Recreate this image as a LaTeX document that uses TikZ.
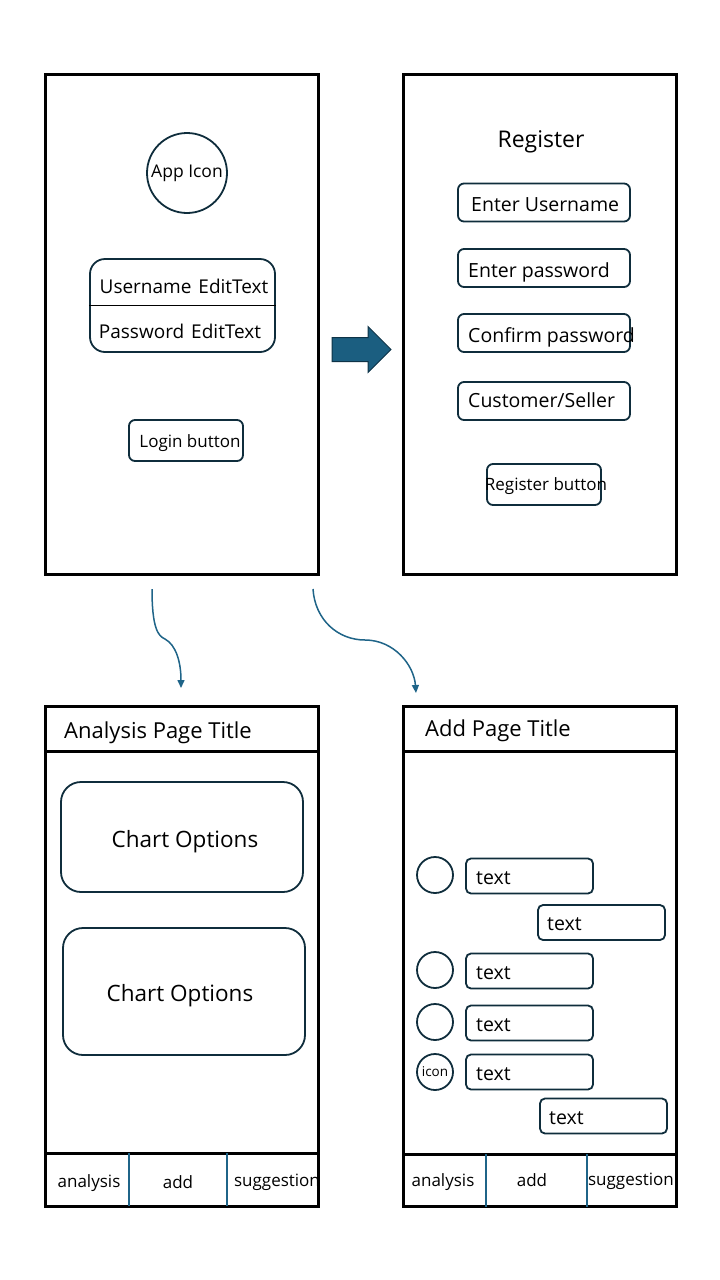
\documentclass[tikz,border=0pt]{standalone}
\usepackage{fontspec}
\setmainfont{Open Sans}
\usetikzlibrary{arrows.meta,shapes.arrows}
\definecolor{edge}{HTML}{0F2D3C}
\definecolor{flowblue}{HTML}{1F6488}
\definecolor{blockfill}{HTML}{1B5E80}
\definecolor{blockline}{HTML}{0E3347}
\newcommand{\fsz}[1]{\fontsize{#1}{#1}\selectfont}
\begin{document}
\begin{tikzpicture}[x=1pt,y=-1pt,
  panel/.style={draw=black,line width=3pt},
  field/.style={draw=edge,line width=1.8pt,rounded corners=6pt,minimum width=172pt,minimum height=38pt,inner sep=0pt},
  tbox/.style={draw=edge,line width=1.8pt,rounded corners=5pt,minimum width=127pt,minimum height=35pt,inner sep=0pt},
  chart/.style={draw=edge,line width=1.8pt,rounded corners=20pt,minimum width=242pt,inner sep=0pt},
  dot/.style={circle,draw=edge,line width=1.8pt,minimum size=36pt,inner sep=0pt},
  txt/.style={anchor=mid,inner sep=0pt,yshift=-5pt},
  lbl/.style={txt,anchor=mid west,yshift=1.5pt,font=\fsz{19.5}},
  navtxt/.style={txt,yshift=3pt,font=\fsz{17}},
  flow/.style={draw=flowblue,line width=1.5pt,-{Triangle[length=8pt,width=7pt]}},
  tab/.style={draw=flowblue,line width=1.5pt}]
\useasboundingbox (0,0) rectangle (720,1280);
% login screen
\draw[panel] (45,74) rectangle (318,574);
\node[dot,minimum size=80pt,font=\fsz{17.5}] (appicon) at (187,173) {App Icon};
\node[field,minimum width=185pt,minimum height=93pt,rounded corners=15pt] (cred) at (182.5,305.5) {};
\draw[black,line width=1.5pt] (cred.west) -- (cred.east);
\node[txt,font=\fsz{19}] (user) at (184,286) {Username\hspace{2pt} EditText};
\node[txt,font=\fsz{19}] (pass) at (180,331) {Password\hspace{2pt} EditText};
\node[field,minimum width=114pt,minimum height=41pt] (login) at (186,440.5) {};
\node[navtxt] (logintxt) at (190,443) {Login button};
% register screen
\draw[panel] (403,74) rectangle (676,574);
\node[txt,font=\fsz{23}] (regtitle) at (541,140) {Register};
\node[field] (runame) at (544,202.5) {};
\node[lbl] (runametxt) at (471,205) {Enter Username};
\node[field] (rpass) at (544,268) {};
\node[lbl] (rpasstxt) at (468,271) {Enter password};
\node[field] (rconf) at (544,333) {};
\node[lbl] (rconftxt) at (468,336) {Confirm password};
\node[field] (rrole) at (544,401) {};
\node[lbl] (rroletxt) at (468,401) {Customer/Seller};
\node[field,minimum width=114pt,minimum height=41pt] (regbtn) at (544,484.5) {};
\node[navtxt] (regbtntxt) at (546,486) {Register button};
% block arrow
\node[single arrow,fill=blockfill,draw=blockline,line width=1pt,inner sep=11.5pt,
  minimum height=59pt,single arrow head extend=11pt] (go) at (355.5,349.5) {};
% analysis screen
\draw[panel] (45,706) rectangle (318,1206);
\draw[panel] (45,751) -- (318,751);
\draw[panel] (45,1153) -- (318,1153);
\node[txt,anchor=mid west,font=\fsz{22}] (antitle) at (64,731) {Analysis Page Title};
\node[chart,minimum height=110pt] (chartA) at (182,837) {};
\node[txt,font=\fsz{22.5}] (chartAtxt) at (185,840) {Chart Options};
\node[chart,minimum height=127pt] (chartB) at (184,991.5) {};
\node[txt,font=\fsz{22.5}] (chartBtxt) at (180,994) {Chart Options};
\draw[tab] (129,1153) -- (129,1206);
\draw[tab] (227,1153) -- (227,1206);
\node[navtxt] (anA) at (89,1183) {analysis};
\node[navtxt] (anB) at (178,1184) {add};
\node[navtxt] (anC) at (277,1182) {suggestion};
% add screen
\draw[panel] (403,706) rectangle (676,1206);
\draw[panel] (403,751) -- (676,751);
\draw[panel] (403,1154) -- (676,1154);
\node[txt,anchor=mid west,font=\fsz{22}] (addtitle) at (425,729) {Add Page Title};
\node[dot] (d1) at (435,875) {};
\node[tbox] (t1) at (529.5,876) {};
\node[lbl] (t1txt) at (476,878) {text};
\node[tbox] (t2) at (601.5,922.5) {};
\node[lbl] (t2txt) at (547,924) {text};
\node[dot] (d3) at (435,970) {};
\node[tbox] (t3) at (529.5,971) {};
\node[lbl] (t3txt) at (476,973) {text};
\node[dot] (d4) at (435,1022) {};
\node[tbox] (t4) at (529.5,1023) {};
\node[lbl] (t4txt) at (476,1025) {text};
\node[dot,font=\fsz{13.5}] (d5) at (435,1072) {icon};
\node[tbox] (t5) at (529.5,1072) {};
\node[lbl] (t5txt) at (476,1074) {text};
\node[tbox] (t6) at (603.5,1116) {};
\node[lbl] (t6txt) at (549,1118) {text};
\draw[tab] (486,1154) -- (486,1207);
\draw[tab] (587,1154) -- (587,1207);
\node[navtxt] (adA) at (443,1182) {analysis};
\node[navtxt] (adB) at (532,1182) {add};
\node[navtxt] (adC) at (631,1181) {suggestion};
% flow arrows
\coordinate (fromL) at (152,589);
\coordinate (toL) at (181,688);
\coordinate (fromR) at (313,589);
\coordinate (toR) at (416,693);
\draw[flow] (fromL) .. controls (152,628) and (158,636) .. (165,639)
  .. controls (176,645) and (181,662) .. (toL);
\draw[flow] (fromR) .. controls (315,620) and (338,640) .. (365,640)
  .. controls (394,640) and (414,665) .. (toR);
\end{tikzpicture}
\end{document}
